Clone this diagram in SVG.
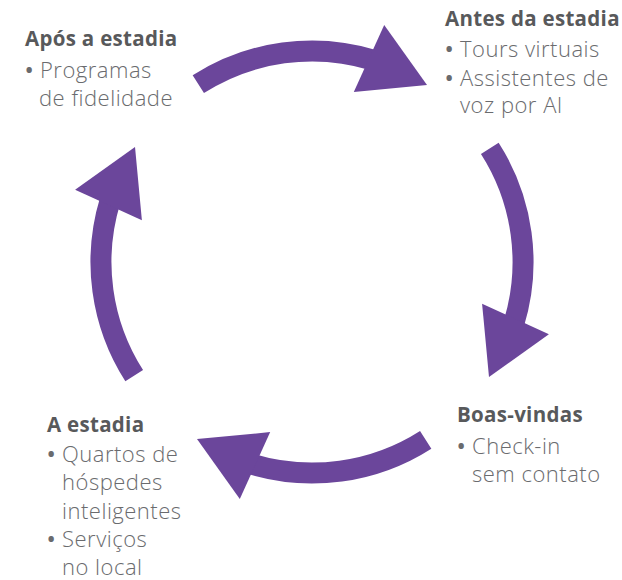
<svg xmlns="http://www.w3.org/2000/svg" xmlns:xlink="http://www.w3.org/1999/xlink" width="622" height="580" viewBox="0 0 622 580">
  <style>
    .hdr { font-family: "Open Sans", "Noto Sans", "Liberation Sans", sans-serif; font-weight: 700; font-size: 20.5px; letter-spacing: 0.3px; fill: #58595B; }
    .txt { font-family: "Open Sans", "Noto Sans", "Liberation Sans", sans-serif; font-weight: 300; font-size: 22px; letter-spacing: 0.5px; fill: #6A6B6E; }
    .b { font-weight: 600; }
    .arc { fill: none; stroke: #6B469B; stroke-width: 21; stroke-linecap: butt; }
    .head { fill: #6B469B; }
  </style>
  <defs>
    <g id="cycleArrow">
      <path class="arc" d="M 198.3 84.2 A 211 211 0 0 1 373.7 60.2"/>
      <polygon class="head" points="384.2,25.1 427,85 353.8,91.9"/>
    </g>
  </defs>
  <rect width="622" height="580" fill="#FFFFFF"/>
  <g id="connectors">
    <use xlink:href="#cycleArrow" href="#cycleArrow"/>
    <use xlink:href="#cycleArrow" href="#cycleArrow" transform="rotate(90 312 262)"/>
    <use xlink:href="#cycleArrow" href="#cycleArrow" transform="rotate(180 312 262)"/>
    <use xlink:href="#cycleArrow" href="#cycleArrow" transform="rotate(270 312 262)"/>
  </g>
  <g id="node-apos">
    <text class="hdr" x="25" y="45.5">Após a estadia</text>
    <text class="txt" x="25" y="78"><tspan class="b">•</tspan> Programas</text>
    <text class="txt" x="39" y="105.5">de fidelidade</text>
  </g>
  <g id="node-antes">
    <text class="hdr" x="445" y="25.5">Antes da estadia</text>
    <text class="txt" x="445" y="57"><tspan class="b">•</tspan> Tours virtuais</text>
    <text class="txt" x="445" y="85.5"><tspan class="b">•</tspan> Assistentes de</text>
    <text class="txt" x="460" y="113">voz por AI</text>
  </g>
  <g id="node-boas">
    <text class="hdr" x="457" y="422">Boas-vindas</text>
    <text class="txt" x="457" y="454"><tspan class="b">•</tspan> Check-in</text>
    <text class="txt" x="472" y="481.5">sem contato</text>
  </g>
  <g id="node-estadia">
    <text class="hdr" x="47" y="431.5">A estadia</text>
    <text class="txt" x="47" y="461.5"><tspan class="b">•</tspan> Quartos de</text>
    <text class="txt" x="62" y="490">hóspedes</text>
    <text class="txt" x="62" y="518.5">inteligentes</text>
    <text class="txt" x="47" y="546.5"><tspan class="b">•</tspan> Serviços</text>
    <text class="txt" x="62" y="574.5">no local</text>
  </g>
</svg>
